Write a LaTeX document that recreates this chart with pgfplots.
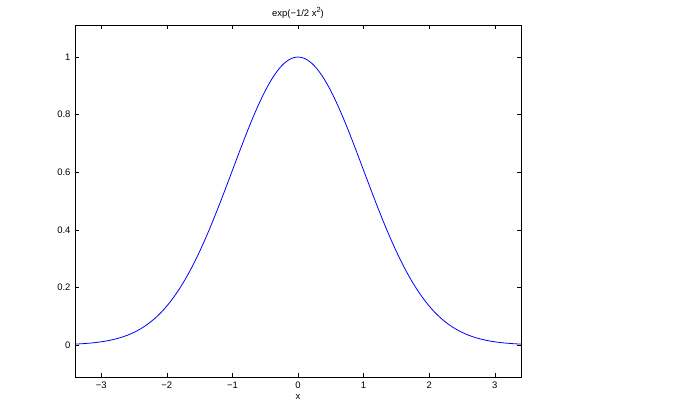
\documentclass[border=0pt]{standalone}
\usepackage{pgfplots}
\pgfplotsset{compat=1.18}
\usepackage{fontspec}
\setmainfont{Liberation Sans}
\begin{document}
\begin{tikzpicture}
\path[use as bounding box] (0,0) rectangle (697bp,417bp);
\begin{axis}[
  at={(75bp,40bp)}, anchor=south west,
  width=446bp, height=352bp, scale only axis,
  xmin=-3.4, xmax=3.4, ymin=-0.1111, ymax=1.1111,
  xtick={-3,-2,-1,0,1,2,3},
  xticklabels={−3,−2,−1,0,1,2,3},
  ytick={0,0.2,0.4,0.6,0.8,1},
  yticklabels={0,0.2,0.4,0.6,0.8,1},
  tick align=inside, major tick length=4bp,
  tick style={black, line width=0.5bp},
  axis line style={black, line width=0.7bp},
  ticklabel style={font=\fontsize{9.5}{11}\selectfont},
  xticklabel style={yshift=-1bp},
  yticklabel style={xshift=-1bp},
  title={exp(−1/2 x\raisebox{0.45em}{\fontsize{7.5}{8}\selectfont 2})},
  title style={font=\fontsize{9.5}{11}\selectfont, yshift=-3bp},
  xlabel={x},
  xlabel style={font=\fontsize{9.5}{11}\selectfont, yshift=1bp},
]
\addplot[blue, line width=0.8bp, smooth] coordinates {
(-3.4,0.00309)(-3.3,0.00432)(-3.2,0.00598)(-3.1,0.00819)(-3.0,0.01111)
(-2.9,0.01492)(-2.8,0.01984)(-2.7,0.02612)(-2.6,0.03405)(-2.5,0.04394)
(-2.4,0.05613)(-2.3,0.07101)(-2.2,0.08892)(-2.1,0.11025)(-2.0,0.13534)
(-1.9,0.16448)(-1.8,0.19790)(-1.7,0.23574)(-1.6,0.27804)(-1.5,0.32465)
(-1.4,0.37531)(-1.3,0.42956)(-1.2,0.48675)(-1.1,0.54607)(-1.0,0.60653)
(-0.9,0.66698)(-0.8,0.72615)(-0.7,0.78270)(-0.6,0.83527)(-0.5,0.88250)
(-0.4,0.92312)(-0.3,0.95600)(-0.2,0.98020)(-0.1,0.99501)(0,1)
(0.1,0.99501)(0.2,0.98020)(0.3,0.95600)(0.4,0.92312)(0.5,0.88250)
(0.6,0.83527)(0.7,0.78270)(0.8,0.72615)(0.9,0.66698)(1.0,0.60653)
(1.1,0.54607)(1.2,0.48675)(1.3,0.42956)(1.4,0.37531)(1.5,0.32465)
(1.6,0.27804)(1.7,0.23574)(1.8,0.19790)(1.9,0.16448)(2.0,0.13534)
(2.1,0.11025)(2.2,0.08892)(2.3,0.07101)(2.4,0.05613)(2.5,0.04394)
(2.6,0.03405)(2.7,0.02612)(2.8,0.01984)(2.9,0.01492)(3.0,0.01111)
(3.1,0.00819)(3.2,0.00598)(3.3,0.00432)(3.4,0.00309)
};
\end{axis}
\end{tikzpicture}
\end{document}
